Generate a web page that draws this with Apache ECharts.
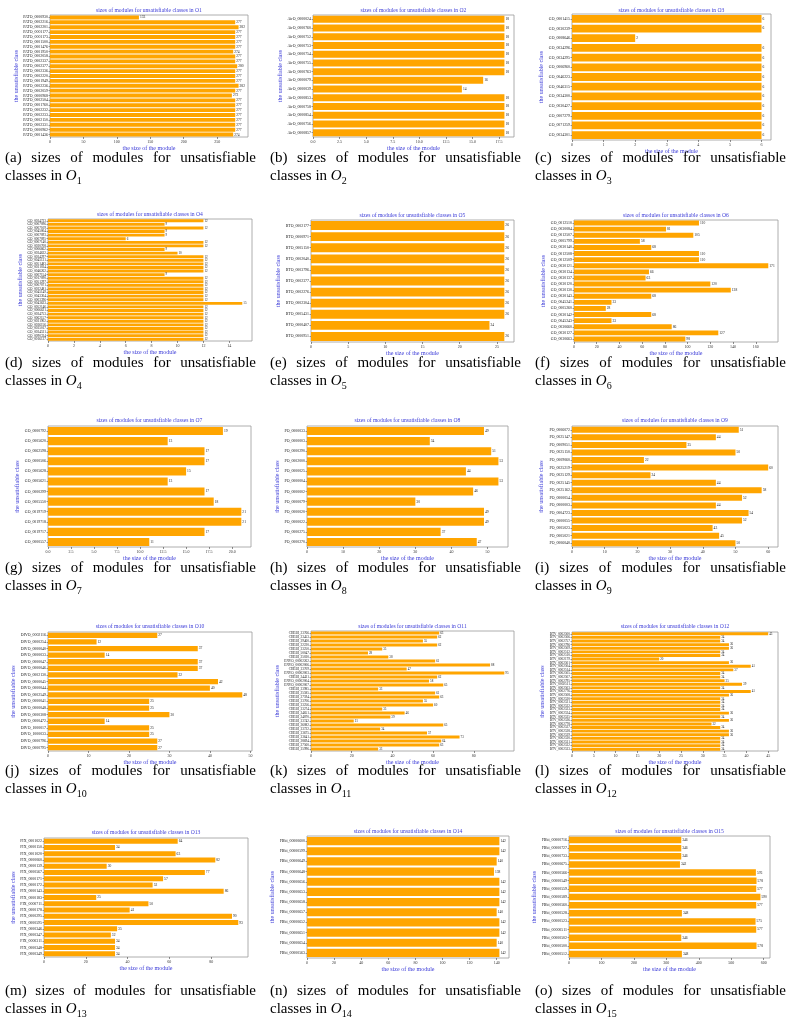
<!DOCTYPE html>
<html>
<head>
<meta charset="utf-8">
<script src="https://cdn.jsdelivr.net/npm/echarts@6/dist/echarts.min.js"></script>
<style>
  body { margin: 0; background: #fff; }
  #chart { position: absolute; left: 0; top: 0; width: 790px; height: 1022px; }
  .cap { position: absolute; font-family: 'Liberation Serif', 'DejaVu Serif', serif; font-size: 15px;
         line-height: 18px; text-align: justify; color: #000; }
  .cap sub { font-size: 10px; line-height: 0; }
</style>
</head>
<body>
<div id="chart"></div>
<div id="caps"></div>
<script>
// ---- data: one pair of arrays per ontology (listed top to bottom as in the picture) ----
var o1Classes = ['PATO_0000930','PATO_0002216','PATO_0002201','PATO_0001177','PATO_0001173','PATO_0001500','PATO_0001476','PATO_0001950','PATO_0002058','PATO_0002337','PATO_0002377','PATO_0002336','PATO_0002220','PATO_0001949','PATO_0002236','PATO_0002059','PATO_0000968','PATO_0002504','PATO_0001760','PATO_0002232','PATO_0002233','PATO_0002150','PATO_0002331','PATO_0000962','PATO_0001436'];
var o1Sizes = [133,277,282,277,277,277,277,274,277,277,280,277,277,277,282,277,272,277,277,277,277,277,277,277,274];

var o2Classes = ['AirO_0000024','AirO_0000760','AirO_0000752','AirO_0000753','AirO_0000754','AirO_0000755','AirO_0000763','AirO_0000079','AirO_0000039','AirO_0000853','AirO_0000758','AirO_0000854','AirO_0000756','AirO_0000857'];
var o2Sizes = [18,18,18,18,18,18,18,16,14,18,18,18,18,18];

var o3Classes = ['GO_0001415','GO_0030239','GO_0008646','GO_0034296','GO_0034295','GO_0006960','GO_0046223','GO_0046315','GO_0034300','GO_0030427','GO_0007279','GO_0071259','GO_0034301'];
var o3Sizes = [6,6,2,6,6,6,6,6,6,6,6,6,6];

var o4Classes = ['GO_0034723','GO_0007096','GO_0007109','GO_0045004','GO_0007093','GO_0007095','GO_0007140','GO_0030708','GO_0006662','GO_0034632','GO_0034297','GO_0045131','GO_0051483','GO_0031034','GO_0046262','GO_0007154','GO_0017090','GO_0051297','GO_0007071','GO_0032481','GO_0045149','GO_0043304','GO_0003396','GO_0043623','GO_0052146','GO_0006621','GO_0034753','GO_0062157','GO_0031902','GO_0036156','GO_0035017','GO_0034531','GO_0090334','GO_0016137'];
var o4Sizes = [12,9,12,9,9,6,12,12,9,10,12,12,12,12,12,9,12,12,12,12,12,12,12,15,12,12,12,12,12,12,12,12,12,12];

var o5Classes = ['BTO_0002177','BTO_0000971','BTO_0005150','BTO_0002040','BTO_0003796','BTO_0002377','BTO_0002276','BTO_0002304','BTO_0005431','BTO_0000407','BTO_0000951'];
var o5Sizes = [26,26,26,26,26,26,26,26,26,24,26];

var o6Classes = ['GO_0012510','GO_0030084','GO_0012507','GO_0005799','GO_0030140','GO_0012508','GO_0012509','GO_0030121','GO_0030134','GO_0030137','GO_0030120','GO_0030130','GO_0030143','GO_0045241','GO_0005260','GO_0030142','GO_0045243','GO_0030660','GO_0030127','GO_0030663'];
var o6Sizes = [110,81,105,58,68,110,110,171,66,63,120,138,68,33,28,68,33,86,127,98];

var o7Classes = ['GO_0000792','GO_0005620','GO_0062598','GO_0000506','GO_0005628','GO_0005621','GO_0000299','GO_0005550','GO_0019719','GO_0019718','GO_0019717','GO_0000557'];
var o7Sizes = [19,13,17,17,15,13,17,18,21,21,17,11];

var o8Classes = ['PO_0000033','PO_0000003','PO_0000290','PO_0002000','PO_0000025','PO_0000004','PO_0000002','PO_0000079','PO_0000020','PO_0000022','PO_0000275','PO_0000270'];
var o8Sizes = [49,34,51,53,44,53,46,30,49,49,37,47];

var o9Classes = ['PO_0006072','PO_0025147','PO_0009051','PO_0025150','PO_0009060','PO_0025219','PO_0025129','PO_0025145','PO_0025162','PO_0000054','PO_0000003','PO_0004723','PO_0000055','PO_0005023','PO_0005021','PO_0006040'];
var o9Sizes = [51,44,35,50,22,60,24,44,58,52,44,54,52,43,45,50];

var o10Classes = ['DIVO_0002116','DIVO_0000254','DIVO_0000040','DIVO_0000033','DIVO_0000047','DIVO_0000046','DIVO_0002130','DIVO_0000045','DIVO_0000044','DIVO_0002549','DIVO_0000041','DIVO_0000048','DIVO_0000308','DIVO_0000472','DIVO_1000017','DIVO_1000033','DIVO_0000796','DIVO_0000795'];
var o10Sizes = [27,12,37,14,37,37,32,42,40,48,25,25,30,14,25,25,27,27];

var o11Classes = ['CHEBI_23766','CHEBI_23453','CHEBI_29460','CHEBI_22220','CHEBI_33250','CHEBI_50047','CHEBI_25030','ENVO_00002262','ENVO_00002006','CHEBI_33709','ENVO_00002003','CHEBI_24431','ENVO_00002004','ENVO_00002007','CHEBI_33985','CHEBI_25585','CHEBI_27594','CHEBI_23706','CHEBI_33256','CHEBI_33274','CHEBI_24651','CHEBI_24870','CHEBI_33742','CHEBI_26082','CHEBI_33722','CHEBI_33675','CHEBI_33641','CHEBI_28694','CHEBI_27560','CHEBI_35996'];
var o11Sizes = [63,62,55,62,35,28,38,61,88,47,95,62,58,65,33,61,63,55,60,35,46,39,21,65,34,57,73,64,63,33];

var o12Classes = ['BTV_0002500','BTV_0002506','BTV_0002757','BTV_0002796','BTV_0002509','BTV_0002512','BTV_0002510','BTV_0002179','BTV_0002501','BTV_0002504','BTV_0002514','BTV_0002505','BTV_0002507','BTV_0002795','BTV_0002511','BTV_0002503','BTV_0002776','BTV_0002508','BTV_0002520','BTV_0002521','BTV_0002522','BTV_0002523','BTV_0002524','BTV_0002525','BTV_0002526','BTV_0002778','BTV_0002527','BTV_0002528','BTV_0002529','BTV_0002530','BTV_0002531','BTV_0002532','BTV_0002533'];
var o12Sizes = [45,34,34,36,36,34,34,20,36,41,37,34,34,35,39,34,41,36,34,34,34,34,36,34,36,32,34,36,36,34,34,34,34];

var o13Classes = ['FIX_0001022','FIX_0000150','FIX_0001020','FIX_0000060','FIX_0000139','FIX_0000567','FIX_0000171','FIX_0000172','FIX_0000143','FIX_0000183','FIX_0000711','FIX_0000178','FIX_0000295','FIX_0000595','FIX_0000346','FIX_0000347','FIX_0000311','FIX_0000348','FIX_0000349'];
var o13Sizes = [64,34,63,82,30,77,57,52,86,25,50,41,90,93,35,32,34,34,34];

var o14Classes = ['FBbi_00000600','FBbi_00000599','FBbi_00000649','FBbi_00000648','FBbi_00000656','FBbi_00000653','FBbi_00000658','FBbi_00000657','FBbi_00000652','FBbi_00000651','FBbi_00000654','FBbi_00000563'];
var o14Sizes = [142,142,140,138,142,142,142,140,142,142,140,142];

var o15Classes = ['FBbi_00000716','FBbi_00000727','FBbi_00000733','FBbi_00000675','FBbi_00000566','FBbi_00000549','FBbi_00000559','FBbi_00000589','FBbi_00000560','FBbi_00000528','FBbi_00000523','FBbi_00000511','FBbi_00000502','FBbi_00000500','FBbi_00000512'];
var o15Sizes = [346,346,346,342,576,578,577,590,577,348,575,577,346,578,348];

// x tick steps per panel
var tickSteps = [50, 2.5, 1, 2, 5, 20, 2.5, 10, 10, 10, 20, 5, 20, 20, 100];

var panelClasses = [o1Classes,o2Classes,o3Classes,o4Classes,o5Classes,o6Classes,o7Classes,o8Classes,o9Classes,o10Classes,o11Classes,o12Classes,o13Classes,o14Classes,o15Classes];
var panelSizes = [o1Sizes,o2Sizes,o3Sizes,o4Sizes,o5Sizes,o6Sizes,o7Sizes,o8Sizes,o9Sizes,o10Sizes,o11Sizes,o12Sizes,o13Sizes,o14Sizes,o15Sizes];

// ---- layout: plot frames [left, top, right, bottom] in page pixels ----
var frames = [
  [50,15,248,137], [313,15,514,137], [572,14,771,140],
  [48,219,252,341], [311,220,514,342], [574,220,778,342],
  [48,426,251,547], [307,426,508,547], [572,426,778,547],
  [48,632,252,751], [311,631,514,751], [572,632,778,751],
  [44,838,248,957], [307,836,509,958], [569,836,770,958]
];
var yNameX = [22,284,544,20,282,544,19,280,541,17,280,544,15,277,538];
var titleY = [11,11,11,215,216,216,421,421,421,627,627,627,833,832,832];

var BLUE = '#3b3bd8';
var SERIF = "'Liberation Serif', 'DejaVu Serif', serif";

var chart = echarts.init(document.getElementById('chart'), null, { width: 790, height: 1022 });

var grids = [], xAxes = [], yAxes = [], series = [], titles = [];
panelSizes.forEach(function (sizes, i) {
  var f = frames[i];
  var dense = sizes.length > 28;
  var step = tickSteps[i];
  grids.push({
    left: f[0], top: f[1], width: f[2] - f[0], height: f[3] - f[1],
    show: true, borderColor: '#999', borderWidth: 0.8, backgroundColor: '#fff'
  });
  titles.push({
    text: 'sizes of modules for unsatisfiable classes in O' + (i + 1),
    left: (f[0] + f[2]) / 2, top: titleY[i] - 3.5, textAlign: 'center',
    padding: 0,
    textStyle: { color: BLUE, fontSize: 5.6, fontWeight: 'normal', fontFamily: SERIF }
  });
  xAxes.push({
    type: 'value', gridIndex: i, min: 0, interval: step,
    max: function (v) { return v.max * 1.05; },
    name: 'the size of the module', nameLocation: 'middle', nameGap: 8,
    nameTextStyle: { color: BLUE, fontSize: 6, fontFamily: SERIF },
    axisLine: { show: false },
    axisTick: { show: true, length: 2, lineStyle: { color: '#444', width: 0.6 } },
    splitLine: { show: false },
    axisLabel: {
      fontSize: 4, color: '#333', margin: 2.5, fontFamily: SERIF, showMaxLabel: false,
      formatter: function (v) { return step % 1 ? v.toFixed(1) : String(v); }
    }
  });
  yAxes.push({
    type: 'category', gridIndex: i, inverse: true, data: panelClasses[i],
    name: 'the unsatisfiable class', nameLocation: 'middle', nameRotate: 90,
    nameGap: f[0] - yNameX[i] - 3,
    nameTextStyle: { color: BLUE, fontSize: 6, fontFamily: SERIF },
    axisLine: { show: false },
    axisTick: { show: true, length: 1.5, alignWithLabel: true, lineStyle: { color: '#444', width: 0.5 } },
    axisLabel: { interval: 0, fontSize: dense ? 3.4 : 3.9, color: '#222', margin: 2, fontFamily: SERIF }
  });
  series.push({
    type: 'bar', xAxisIndex: i, yAxisIndex: i, data: sizes,
    barCategoryGap: '20%',
    itemStyle: { color: '#FFA500' },
    label: { show: true, position: 'right', distance: 1, fontSize: dense ? 3.2 : 3.6, color: '#222', fontFamily: SERIF },
    animation: false
  });
});

chart.setOption({
  backgroundColor: '#fff',
  animation: false,
  title: titles,
  grid: grids,
  xAxis: xAxes,
  yAxis: yAxes,
  series: series
});

// ---- captions ----
var letters = 'abcdefghijklmno';
var colX = [5, 270, 535];
var rowTop = [148, 353, 558, 761, 981];
var caps = document.getElementById('caps');
for (var i = 0; i < 15; i++) {
  var d = document.createElement('div');
  d.className = 'cap';
  d.style.left = colX[i % 3] + 'px';
  d.style.top = rowTop[Math.floor(i / 3)] + 'px';
  d.style.width = '251px';
  d.innerHTML = '(' + letters[i] + ') sizes of modules for unsatisfiable classes in <i>O</i><sub>' + (i + 1) + '</sub>';
  caps.appendChild(d);
}

window.onresize = function () { chart.resize(); };
</script>
</body>
</html>
